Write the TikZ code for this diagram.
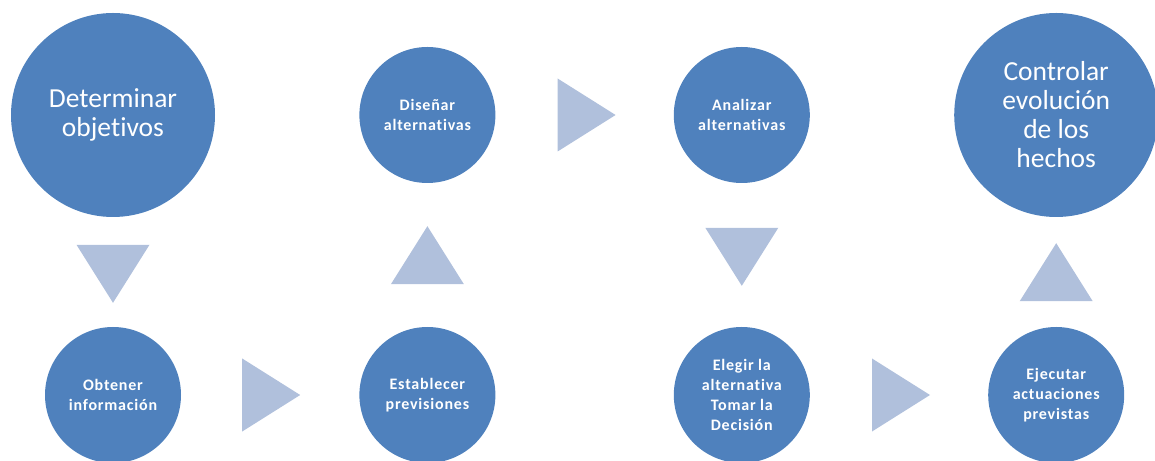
\documentclass[tikz,border=0pt]{standalone}
\usepackage{fontspec}
\setmainfont{Carlito}[Ligatures=NoCommon]
\newfontfamily\stepfont[LetterSpace=5,Ligatures=NoCommon]{Carlito}
\usepackage{xcolor}
\usetikzlibrary{shapes.geometric,positioning,calc}
\definecolor{circblue}{HTML}{4F81BD}
\definecolor{triblue}{HTML}{B0C0DC}

\begin{document}
\begin{tikzpicture}[
  x=1pt, y=1pt,
  node distance=178pt,
  big/.style={circle, fill=circblue, text=white, minimum size=204pt,
              inner sep=0pt, align=center, font=\fontsize{27.5}{29}\selectfont},
  small/.style={circle, fill=circblue, text=white, minimum size=136pt,
                inner sep=0pt, align=center,
                font=\stepfont\bfseries\fontsize{16}{20}\selectfont},
  tri/.style={isosceles triangle, isosceles triangle stretches, fill=triblue,
              inner sep=0pt, outer sep=0pt, minimum width=73pt, minimum height=58pt}
]
  \useasboundingbox (0,0) rectangle (1155,460);
  % bottom row
  \node[small] (obt) at (113,65) {Obtener\\información};
  \node[small, right=of obt] (est) {Establecer\\previsiones};
  \node[small, right=of est] (ele) {Elegir la\\alternativa\\Tomar la\\Decisión};
  \node[small, right=of ele] (eje) {Ejecutar\\actuaciones\\previstas};
  % top row
  \node[big] (det) at (113,345) {Determinar\\objetivos};
  \node[small] (dis) at (est |- det) {Diseñar\\alternativas};
  \node[small] (ana) at (ele |- det) {Analizar\\alternativas};
  \node[big] (con) at (eje |- det) {Controlar\\evolución\\de los\\hechos};
  % arrows
  \node[tri, rotate=-90, anchor=apex] (t1) at ($(obt.north)+(0,24)$) {};
  \node[tri, anchor=apex] (t2) at ($(est.west)+(-59,0)$) {};
  \node[tri, rotate=90, anchor=apex] (t3) at ($(dis.south)+(0,-43)$) {};
  \node[tri, anchor=apex] (t4) at ($(ana.west)+(-58,0)$) {};
  \node[tri, rotate=-90, anchor=apex] (t5) at ($(ele.north)+(0,41)$) {};
  \node[tri, anchor=apex] (t6) at ($(eje.west)+(-58,0)$) {};
  \node[tri, rotate=90, anchor=apex] (t7) at ($(con.south)+(0,-26)$) {};
\end{tikzpicture}
\end{document}
